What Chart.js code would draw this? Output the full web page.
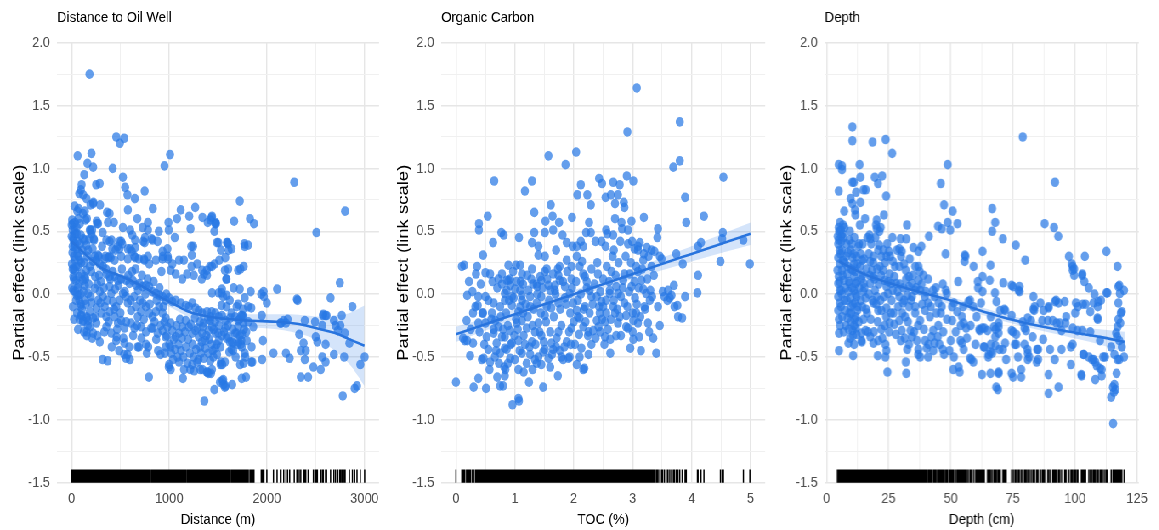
<!DOCTYPE html>
<html>
<head>
<meta charset="utf-8">
<script src="https://cdn.jsdelivr.net/npm/chart.js@4.4.1/dist/chart.umd.min.js"></script>
<style>
html, body { margin: 0; padding: 0; background: #fff; overflow: hidden; }
#figure { position: absolute; left: 0; top: 0; height: 530px; transform-origin: 0 0; }
.panel { position: absolute; top: 0; height: 530px; }
</style>
</head>
<body>
<div id="figure">
	<div class="panel"><canvas id="c1"></canvas></div>
	<div class="panel"><canvas id="c2"></canvas></div>
	<div class="panel"><canvas id="c3"></canvas></div>
</div>
<script>
// ---- data ----
const yTicks = [-1.5, -1.25, -1, -0.75, -0.5, -0.25, 0, 0.25, 0.5, 0.75, 1, 1.25, 1.5, 1.75, 2]
const yMajor = [-1.5, -1, -0.5, 0, 0.5, 1, 1.5, 2]

const distTicks = [0, 500, 1000, 1500, 2000, 2500, 3000]
const distMajor = [0, 1000, 2000, 3000]
const tocTicks = [0, 0.5, 1, 1.5, 2, 2.5, 3, 3.5, 4, 4.5, 5]
const tocMajor = [0, 1, 2, 3, 4, 5]
const depthTicks = [0, 12.5, 25, 37.5, 50, 62.5, 75, 87.5, 100, 112.5, 125]
const depthMajor = [0, 25, 50, 75, 100, 125]

// partial residuals, distance to oil well (m)
const distPoints = [
[183,1.75],[457,1.25],[494,1.20],[538,1.24],[61,1.10],[203,1.12],[162,1.04],[220,1.01],[420,1.00],[1008,1.11],[951,1.02],[2281,0.89],[2802,0.66],[2508,0.49],[129,0.95],[102,0.87],[94,0.83],[78,0.80],[251,0.87],[287,0.88],[525,0.93],[548,0.85],[572,0.79],[647,0.76],[748,0.82],[152,0.76],[223,0.73],[193,0.71],[30,0.70],[71,0.68],[135,0.66],[115,0.64],[156,0.60],[142,0.59],[291,0.71],[362,0.65],[389,0.64],[576,0.67],[832,0.68],[1117,0.67],[1266,0.69],[1723,0.74],[1205,0.62],[1218,0.52],[1340,0.61],[1394,0.57],[1080,0.60],[992,0.57],[995,0.51],[1056,0.45],[673,0.60],[782,0.57],[728,0.53],[782,0.51],[893,0.50],[1827,0.60],[1868,0.56],[1665,0.58],[1475,0.57],[1462,0.50],[372,0.57],[433,0.57],[257,0.58],[261,0.56],[5,0.59],[13,0.56],[30,0.51],[54,0.48],[94,0.47],[193,0.51],[226,0.44],[318,0.49],[409,0.43],[508,0.42],[470,0.38],[490,0.36],[622,0.47],[650,0.43],[599,0.36],[616,0.34],[751,0.45],[748,0.41],[819,0.44],[880,0.42],[982,0.36],[1225,0.38],[1245,0.38],[1503,0.41],[1604,0.40],[1638,0.36],[1773,0.38],[1807,0.39],[1231,0.31],[934,0.30],[988,0.28],[782,0.30],[741,0.28],[650,0.29],[312,0.38],[237,0.30],[277,0.30],[345,0.30],[376,0.29],[400,0.29],
[20,0.20],[74,0.08],[68,-0.01],[94,-0.08],[94,-0.17],[115,-0.22],[155,-0.19],[155,-0.30],[155,-0.33],[318,-0.52],[368,-0.53],[460,-0.34],[487,-0.45],[572,-0.48],[596,-0.52],[538,-0.48],[690,-0.42],[785,-0.42],[792,-0.66],[866,-0.36],[911,-0.48],[995,-0.58],[1015,-0.60],[1140,-0.67],[1215,-0.60],[1256,-0.61],[1317,-0.60],[1391,-0.62],[1428,-0.63],[1360,-0.85],[1462,-0.76],[1520,-0.70],[1546,-0.69],[1577,-0.73],[1645,-0.72],[1743,-0.67],[1526,-0.56],[1570,-0.54],[1655,-0.45],[1851,-0.54],[1780,-0.50],[1952,-0.52],[2068,-0.47],[1960,-0.37],[1949,-0.17],[1970,-0.02],[1967,0.02],[2000,-0.07],[2105,0.04],[1835,0.02],[1723,0.04],[1706,-0.08],[1756,-0.12],[1749,-0.17],[1587,-0.01],[1587,0.12],[1604,0.20],[1706,0.19],[1763,0.22],[2308,-0.04],[2332,-0.32],[2376,-0.39],[2348,-0.45],[2399,-0.45],[2389,-0.21],[2196,-0.23],[2173,-0.21],[2213,-0.20],[2139,-0.23],[2196,-0.47],[2234,-0.51],[2348,-0.66],[2423,-0.66],[2389,-0.52],[2477,-0.58],[2552,-0.60],[2568,-0.50],[2602,-0.54],[2494,-0.22],[2501,-0.34],[2518,-0.38],[2568,-0.25],[2602,-0.17],[2579,-0.16],[2612,-0.17],[2602,-0.40],[2653,-0.03],[2687,-0.21],[2704,-0.25],[2728,-0.29],[2754,-0.25],[2687,-0.48],[2748,0.09],[2768,-0.17],[2799,-0.31],[2792,-0.50],[2778,-0.81],[2846,-0.39],[2877,-0.10],[2900,-0.75],[2924,-0.73],[2958,-0.56],[3002,-0.50],
[1943,0.00],[2315,-0.05],[1434,0.61],[1479,0.56],[1530,0.35],[1597,0.41],[1570,0.19],[1584,0.12],[1729,0.20],[1418,0.22],[1385,0.19],[1357,0.16],[1333,0.12],[2145,-0.23],[2575,-0.17],[1841,-0.54],[1401,-0.63],[1385,-0.62],[1340,-0.60],[1530,-0.54],[1543,-0.56],[1452,-0.50],[1401,-0.47],[1469,-0.43],[1486,-0.40],[1435,-0.40],[1333,-0.38],[1317,-0.42],[1638,-0.44],[1688,-0.31],[1723,-0.33],[1739,-0.37],[1733,-0.40],[1773,-0.47],[1503,-0.31],[1587,-0.35],[1621,-0.38],[1655,-0.39],[1706,-0.26],[1739,-0.17],[1756,-0.18],[1638,-0.15],[1587,-0.10],[1536,-0.09],[1553,-0.02],[1536,0.01],[1435,-0.14],[1418,-0.21],[1350,-0.23],[1807,-0.10],[1841,-0.11],[1773,-0.03],[1553,-0.68],[1570,-0.74],
[118,0.79],[220,0.72],[58,0.66],[271,0.56],[210,0.51],[203,0.48],[599,0.51],[525,0.53],[931,0.34],[985,0.30],[829,0.43],[734,0.42],[650,0.37],[575,0.36],[518,0.40],[491,0.42],[450,0.35],[416,0.36],[389,0.42],[355,0.43],[230,0.43],[186,0.51],[118,0.44],[10,0.51],[0,0.55],[34,0.57],[85,0.56],[135,0.43],[152,0.39],[169,0.35],[51,0.36],[34,0.40],[17,0.43],
[271,0.31],[338,0.28],[389,0.30],[440,0.27],[508,0.30],[575,0.28],[643,0.30],[687,0.28],[745,0.27],[795,0.24],[863,0.27],[931,0.28],[1032,0.24],[1100,0.27],[1150,0.27],[1184,0.16],[1252,0.15],[1286,0.24],[1228,0.22],[1134,0.12],[1066,0.16],[1015,0.19],[1337,0.19],[1387,0.15],[1438,0.22],[1465,0.24],[1513,0.27],[1574,0.29],[1608,0.35],[1591,0.41],[1489,0.41],[1472,0.56],[1438,0.62],[1421,0.59],[1770,0.40],[1540,0.04],[1506,0.01],[1438,0.01],
[10,0.20],[34,0.19],[68,0.22],[102,0.16],[135,0.14],[152,0.19],[186,0.22],[220,0.26],[254,0.27],[288,0.24],[321,0.22],[355,0.16],[389,0.14],[440,0.14],[474,0.11],[508,0.12],[558,0.11],[592,0.085],[626,0.11],[660,0.07],[694,0.085],[728,0.06],[761,0.07],[795,0.06],[829,0.02],[863,0.005],[897,-0.008],[931,-0.02],[964,-0.05],[998,-0.03],[1032,-0.06],[1066,-0.05],[1117,-0.07],[1168,-0.09],[1201,-0.10],[1235,-0.07],[1269,-0.11],[1303,-0.13],[1337,-0.15],[1387,-0.14],[1421,-0.18],[1472,-0.15],[1506,-0.18],[1540,-0.17],[1574,-0.21],[1624,-0.19],[1675,-0.18],[1709,-0.21],[1760,-0.23],[1810,-0.22],[1861,-0.26],
[17,0.03],[51,-0.01],[78,-0.05],[91,-0.10],[102,-0.17],[118,-0.21],[152,-0.18],[186,-0.14],[220,-0.19],[254,-0.23],[203,-0.07],[271,-0.05],[321,-0.02],[288,0.02],[237,0.045],[169,0.005],[135,-0.05],[389,0.06],[406,0.005],[423,-0.06],[457,-0.10],[491,-0.05],[525,0.005],[558,-0.02],[575,-0.07],[609,-0.13],[660,-0.10],[677,-0.18],[711,-0.14],[728,-0.07],[761,-0.10],[795,-0.15],[829,-0.18],[863,-0.14],[897,-0.10],[931,-0.15],[964,-0.19],[981,-0.26],[1015,-0.23],[1032,-0.29],[1066,-0.34],[1100,-0.31],[1134,-0.26],[1168,-0.21],[1201,-0.26],[1235,-0.31],[1269,-0.29],[1303,-0.34],[1337,-0.31],[1371,-0.37],[1404,-0.29],[1438,-0.26],[1472,-0.31],[1506,-0.37],[1540,-0.33],[1574,-0.27],[1607,-0.34],[1641,-0.38],[1675,-0.31],[1709,-0.38],[1743,-0.42],[1794,-0.37],[1844,-0.42],
[541,-0.39],[558,-0.51],[677,-0.42],[761,-0.40],[964,-0.42],[1015,-0.42],[1039,-0.52],[998,-0.56],[1100,-0.54],[1151,-0.60],[1235,-0.56],[1286,-0.54],[1438,-0.60],[1557,-0.72],[1726,-0.56],[1760,-0.55],[1787,-0.66],
[44,0.11],[17,0.14],[112,0.11],[135,0.07],[254,-0.11],[305,-0.15],[355,-0.18],[338,-0.10],[389,-0.14],[440,-0.18],[474,-0.23],[508,-0.21],[541,-0.27],[609,-0.23],[643,-0.27],[711,-0.26],[761,-0.30],[829,-0.27],[880,-0.31],[931,-0.29],[964,-0.34],[355,-0.26],[406,-0.31],[457,-0.37],[186,-0.26],[220,-0.31],[288,-0.38],[169,-0.21],
[0,0.46],[10,0.38],[24,0.30],[3,0.24],[34,0.27],[58,0.32],[85,0.27],[51,0.53],[68,0.60],
[950,-0.22],[975,-0.33],[1000,-0.40],[1020,-0.47],[1045,-0.36],[1060,-0.44],[1075,-0.25],[1085,-0.50],[1095,-0.40],[1110,-0.20],[1120,-0.45],[1130,-0.35],[1145,-0.50],[1160,-0.30],[1170,-0.42],[1185,-0.55],[1195,-0.36],[1210,-0.47],[1220,-0.24],[1240,-0.40],[1250,-0.50],[1262,-0.19],[1275,-0.44],[1290,-0.27],[1300,-0.52],[1315,-0.22],[1325,-0.47],[1345,-0.26],[1355,-0.51],[1370,-0.43],[1380,-0.33],[1395,-0.20],[1410,-0.36],[1420,-0.53],[1445,-0.45],[1455,-0.28],[1470,-0.22],[1490,-0.48],[1510,-0.25],[1525,-0.42],
[5,0.05],[8,0.33],[12,-0.10],[15,0.45],[22,0.12],[25,-0.20],[28,0.38],[38,0.02],[40,0.48],[45,-0.05],[48,0.22],[55,-0.15],[60,0.42],[62,0.05],[65,-0.28],[70,0.30],[75,0.14],[80,-0.20],[88,0.40],[90,0.00],[98,0.25],[105,-0.12],[110,0.35],[122,0.02],[125,-0.30],[130,0.25],[140,0.12],[145,-0.08],[160,0.30],[165,-0.25],[175,0.08],[180,0.44],[195,-0.02],[200,0.18],[210,-0.35],[215,0.36],[240,0.14],[245,-0.18],[260,0.08],[265,-0.33],[280,0.15],[295,-0.07],[300,0.10],[330,0.05],[335,-0.30],[350,0.20],[365,-0.05],[380,-0.22],[395,0.12],[410,-0.42],[420,0.18],[435,-0.12],[445,0.04],[465,-0.28],[480,0.07],[500,-0.15],[515,0.20],[530,-0.35],[545,0.02],[560,-0.22],[580,0.15],[590,-0.42],[605,-0.05],[620,0.18],[630,-0.33],[640,-0.02],[655,0.20],[670,-0.25],[680,0.03],[700,-0.05],[715,-0.35],[720,0.15],[740,-0.20],[755,0.00],[770,-0.47],[780,0.12],[800,-0.08],[815,-0.27],[840,0.10],[850,-0.22],[870,-0.05],[885,-0.45],[900,0.05],[910,-0.25],[920,0.18],[940,-0.10],[955,-0.47],[970,0.00],
[1560,-0.30],[1600,-0.25],[1615,-0.46],[1650,-0.28],[1680,-0.50],[1700,-0.40],[1720,-0.20],[1745,-0.32],[1765,-0.28],[1790,-0.30],[1620,-0.05],[1660,0.05],[1690,-0.10]
]
const distFitX = [0, 150, 300, 450, 600, 750, 900, 1050, 1200, 1350, 1500, 1650, 1800, 1950, 2100, 2250, 2400, 2550, 2700, 2850, 3000]
const distFit = [0.42, 0.31, 0.21, 0.16, 0.11, 0.05, -0.02, -0.08, -0.14, -0.17, -0.19, -0.20, -0.21, -0.215, -0.22, -0.23, -0.25, -0.28, -0.31, -0.36, -0.41]
const distLo = [0.30, 0.24, 0.16, 0.12, 0.07, 0.01, -0.06, -0.12, -0.18, -0.21, -0.23, -0.25, -0.26, -0.27, -0.28, -0.30, -0.33, -0.38, -0.45, -0.56, -0.73]
const distHi = [0.55, 0.38, 0.26, 0.20, 0.15, 0.09, 0.02, -0.04, -0.10, -0.13, -0.15, -0.15, -0.16, -0.16, -0.16, -0.16, -0.17, -0.18, -0.17, -0.15, -0.09]

// partial residuals, total organic carbon (%)
const tocPoints = [
[3.07,1.64],[2.91,1.29],[3.80,1.37],[3.80,1.06],[3.69,1.01],[1.57,1.10],[2.04,1.13],[1.86,1.03],[4.54,0.93],[0.65,0.90],[1.29,0.90],[1.17,0.82],[2.12,0.87],[2.43,0.92],[2.48,0.88],[2.67,0.89],[2.78,0.87],[2.90,0.94],[3.01,0.90],[2.06,0.79],[2.23,0.79],[2.54,0.77],[2.63,0.79],[2.75,0.79],[2.85,0.73],[2.70,0.72],[2.86,0.69],[3.89,0.77],[2.29,0.71],[1.61,0.71],[1.33,0.65],[0.54,0.62],[0.39,0.56],[0.39,0.51],[1.64,0.62],[1.75,0.57],[1.97,0.61],[2.26,0.57],[2.70,0.60],[2.98,0.58],[3.19,0.61],[4.21,0.62],[3.91,0.57],[1.52,0.58],[1.65,0.51],[1.33,0.49],[1.51,0.49],[0.77,0.49],[0.81,0.47],[1.07,0.45],[0.63,0.41],[1.29,0.41],[1.81,0.47],[1.88,0.41],[2.21,0.49],[2.29,0.49],[2.55,0.51],[2.57,0.48],[2.67,0.47],[2.82,0.52],[2.92,0.51],[3.43,0.52],[3.42,0.45],[4.53,0.49],[4.52,0.44],[4.88,0.43],[4.16,0.41],[4.11,0.38],[3.74,0.32],[0.14,0.23],[0.36,0.22],[0.46,0.31],[0.89,0.23],[1.02,0.23],[1.09,0.23],[1.40,0.31],[1.51,0.30],[1.70,0.35],[2.05,0.38],[1.98,0.38],[2.12,0.42],[2.16,0.38],[2.37,0.42],[2.47,0.42],[2.54,0.38],[2.68,0.35],[2.99,0.42],[3.09,0.38],[3.12,0.41],[3.24,0.37],[3.32,0.35],[3.37,0.34],[3.46,0.30],[3.49,0.28],[4.99,0.24],[4.49,0.26],
[0.34,0.16],[0.50,0.17],[0.58,0.16],[0.19,-0.01],[0.28,0.02],[0.50,-0.02],[0.00,-0.70],[0.18,-0.21],[0.15,-0.37],[0.19,-0.37],[0.29,-0.39],[0.24,-0.49],[0.38,-0.23],[0.30,-0.74],[0.38,-0.67],[0.44,-0.52],[0.47,-0.51],[0.51,-0.75],[0.55,-0.44],[0.52,-0.34],[0.45,-0.15],[0.61,-0.15],[0.64,-0.28],[0.70,-0.66],[0.75,-0.73],[0.80,-0.73],[0.84,-0.60],[0.82,-0.58],[0.96,-0.88],[1.06,-0.83],[1.07,-0.85],[1.06,-0.60],[1.24,-0.70],[1.48,-0.74],[1.73,-0.65],[2.18,-0.59],[2.05,-0.56],[2.62,-0.47],[2.96,-0.43],[3.11,-0.34],[3.40,-0.47],[3.77,-0.18],[3.84,-0.19],[3.89,-0.02],[4.10,0.01],[4.11,0.15],[3.70,0.07],[3.60,0.03],[3.46,-0.25],[3.43,-0.10],[3.71,-0.10],[3.76,-0.09],[3.30,0.03],[3.15,0.11],[2.98,0.06],[2.75,0.005],[2.86,-0.07],[3.00,-0.15],[3.09,-0.23],[2.92,-0.27],[2.75,-0.23],[2.53,-0.22],[2.70,-0.15],[2.47,-0.06],[2.30,-0.02],[2.19,-0.10],[2.07,-0.18],[1.96,-0.27],[1.88,-0.38],[1.79,-0.50],[1.93,-0.50],[2.13,-0.43],[2.25,-0.30],[2.42,-0.26],[2.53,-0.34],[2.72,-0.33],[2.89,-0.17],[3.04,-0.03],
[1.34,-0.52],[1.40,-0.50],[1.51,-0.44],[1.62,-0.39],[1.74,-0.30],[1.45,-0.33],[1.29,-0.38],[1.17,-0.40],[1.06,-0.37],[0.95,-0.39],[0.83,-0.43],[0.78,-0.34],[0.72,-0.26],[0.67,-0.21],[0.75,-0.10],[0.83,-0.05],[0.95,-0.09],[1.06,-0.14],[1.12,-0.21],[1.20,-0.27],[1.34,-0.30],[1.40,-0.23],[1.51,-0.17],[1.62,-0.11],[1.74,-0.07],[1.85,-0.03],[1.68,0.03],[1.57,0.07],[1.45,0.11],[1.37,0.08],[1.23,0.03],[1.12,-0.01],[1.00,0.04],[0.89,0.11],[0.78,0.16],[1.12,0.16],[1.29,0.20],[1.51,0.18],[1.74,0.15],[1.96,0.12],[2.19,0.14],[2.41,0.16],[2.64,0.18],[2.86,0.16],[3.09,0.18],[3.32,0.22],
[1.40,0.38],[1.21,0.15],[1.38,0.06],[1.26,-0.02],[1.12,-0.05],[0.72,0.12],[0.86,0.11],[0.92,0.07],[0.83,0.005],[0.95,-0.02],[1.09,0.03],[0.38,-0.02],[0.37,-0.09],[0.64,-0.07],[0.29,-0.15],[0.46,-0.15],[0.58,-0.54],[0.50,-0.23],[0.64,-0.31],[0.83,-0.65],
[0.69,-0.39],[0.75,-0.47],[0.86,-0.44],[0.92,-0.51],[1.00,-0.52],[1.12,-0.47],[1.20,-0.55],[1.26,-0.48],[1.37,-0.55],[1.48,-0.46],[1.57,-0.51],[1.65,-0.44],[1.70,-0.42],[1.82,-0.52],[1.91,-0.51],[2.16,-0.60],
[0.78,0.08],[0.86,0.03],[0.98,-0.03],[1.09,-0.10],[1.14,-0.15],[1.03,-0.23],[0.92,-0.29],[0.83,-0.34],[1.26,-0.10],[1.37,-0.07],[1.45,-0.02],[1.54,-0.10],[1.60,0.03],[1.68,0.07],[1.76,0.11],[1.85,0.06],[1.93,0.005],[1.99,-0.07],[2.05,-0.13],[2.10,-0.19],[2.16,-0.26],[2.24,-0.33],[2.33,-0.29],[2.39,-0.21],[2.44,-0.15],[2.50,-0.10],[2.55,-0.05],[2.61,0.03],[2.39,-0.02],[2.27,0.03],[2.22,0.10],[2.16,0.16],[2.10,0.22],[2.05,0.30],[1.96,0.22],[1.88,0.27],[1.76,0.22],[1.65,0.16],[1.54,0.20],[1.43,0.14],[1.31,0.08],[1.14,0.08],[1.03,0.10],[0.92,0.12],
[2.81,0.57],[2.79,0.42],[2.92,0.40],[3.03,0.36],[3.09,0.35],[3.19,0.32],[3.27,0.30],[3.85,0.24],[3.66,-0.01],[3.26,-0.23],[3.51,0.02],[3.63,-0.03],[3.59,-0.05],[3.54,-0.02],[3.18,0.04],[3.23,0.005],[3.29,-0.05],[3.20,-0.10],[3.06,-0.15],[3.01,-0.21],[2.89,-0.26],[2.78,-0.18],[2.67,-0.10],[2.55,-0.15],[2.61,0.005],[2.72,0.06],[2.84,0.11],[2.95,0.16],[3.06,0.22],[3.18,0.27],[3.01,-0.36],
[1.02,-0.20],[1.05,-0.28],[1.08,-0.45],[1.10,0.10],[1.15,-0.33],[1.18,-0.08],[1.22,-0.18],[1.25,-0.42],[1.28,0.12],[1.30,-0.25],[1.32,-0.12],[1.35,-0.40],[1.38,0.00],[1.42,-0.30],[1.44,-0.15],[1.47,0.05],[1.49,-0.38],[1.53,-0.22],[1.55,0.12],[1.58,-0.05],[1.60,-0.30],[1.63,-0.48],[1.66,-0.18],[1.69,0.00],[1.71,-0.35],[1.73,0.20],[1.77,-0.12],[1.79,-0.25],[1.82,0.10],[1.84,-0.42],[1.87,-0.08],[1.89,0.18],[1.92,-0.30],[1.94,-0.15],[1.97,0.05],[2.00,-0.22],[2.02,-0.40],[2.04,0.10],[2.07,-0.05],[2.09,-0.32],[2.12,0.00],[2.14,0.26],[2.17,-0.12],[2.20,-0.22],[2.22,0.05],[2.25,-0.48],[2.27,-0.15],[2.30,0.20],[2.32,-0.08],[2.35,0.08],[2.37,-0.35],[2.40,0.25],[2.43,-0.10],[2.45,0.02],[2.48,-0.20],[2.50,0.12],[2.52,-0.40],[2.56,0.22],[2.58,-0.28],[2.60,0.10],[2.63,-0.20],[2.66,0.30],[2.68,-0.05],[2.71,0.15],[2.74,-0.12],[2.76,0.25],[2.80,-0.02],[2.83,0.05],[2.88,0.30],[2.91,-0.10],[2.94,0.02],[2.97,0.25],[3.00,-0.30],[3.03,0.10],[3.07,-0.08],[3.10,0.05],[3.13,-0.18],[3.16,0.20],[3.21,-0.12],[3.25,0.12],[3.28,-0.30],[3.33,-0.02],[3.36,0.15],
[0.55,-0.05],[0.60,-0.20],[0.62,0.10],[0.68,-0.45],[0.70,0.05],[0.73,-0.55],[0.76,-0.18],[0.80,-0.28],[0.85,-0.15],[0.88,-0.25],[0.90,-0.05],[0.93,-0.40],[0.97,0.18],[0.99,-0.33],[0.40,-0.30],[0.42,0.08],[0.48,-0.40],[0.33,-0.10],[0.25,-0.28],[0.22,0.10],[0.12,-0.35],[0.10,0.22],[0.57,-0.60],[0.66,-0.50],[0.88,-0.55],[1.15,-0.62],[1.30,-0.60],[1.45,-0.56],[1.60,-0.58],[1.76,-0.45],[1.95,-0.40],[2.10,-0.50],[2.30,-0.40],[2.45,-0.30],[2.62,-0.36],[2.80,-0.33],[3.14,-0.45],[3.35,-0.35]
]
const tocFitX = [0, 1, 2, 3, 4, 5]
const tocFit = [-0.32, -0.16, 0.0, 0.16, 0.32, 0.48]
const tocLo = [-0.38, -0.20, -0.03, 0.12, 0.26, 0.39]
const tocHi = [-0.26, -0.12, 0.03, 0.20, 0.38, 0.57]

// partial residuals, sample depth (cm)
const depthPoints = [
[10.4,1.33],[10.4,1.22],[18.5,1.21],[23.8,1.23],[26.4,1.12],[48.8,1.03],[79.0,1.25],[92.0,0.89],[4.9,1.03],[6.2,1.02],[6.2,0.99],[13.3,1.03],[13.6,0.93],[4.9,0.82],[10.4,0.89],[11.0,0.89],[11.9,0.81],[19.4,0.93],[22.4,0.94],[20.7,0.88],[14.9,0.83],[15.8,0.83],[24.0,0.78],[13.6,0.73],[9.7,0.76],[10.4,0.72],[7.1,0.66],[11.4,0.67],[11.6,0.63],[23.1,0.63],[20.2,0.59],[21.8,0.53],[5.4,0.57],[4.9,0.53],[5.8,0.51],[4.5,0.46],[6.4,0.48],[46.0,0.88],[47.3,0.71],[50.8,0.66],[48.8,0.57],[49.8,0.51],[52.7,0.56],[44.9,0.54],[46.4,0.52],[41.2,0.46],[47.9,0.32],[55.7,0.31],[32.4,0.55],[29.8,0.44],[32.1,0.44],[35.0,0.37],[38.2,0.38],[37.0,0.34],[66.7,0.68],[67.9,0.57],[66.7,0.50],[71.0,0.44],[76.2,0.39],[80.0,0.27],[87.8,0.56],[91.6,0.53],[93.3,0.46],[97.6,0.30],[98.8,0.24],[99.1,0.22],[104.0,0.30],[112.7,0.34],[117.2,0.22],[62.8,0.34],[59.2,0.22],[66.0,0.23],
[7.2,0.53],[6.6,0.55],[5.9,0.46],[4.9,0.43],[17.3,0.47],[17.6,0.44],[19.9,0.55],[20.2,0.52],[55.9,0.30],[55.6,0.26],[29.3,0.36],[30.3,0.34],[25.1,0.34],[24.1,0.30],[21.2,0.39],[18.9,0.30],[31.9,0.19],[33.2,0.14],[35.7,0.22],[37.0,0.22],[31.2,0.24],[29.3,0.22],[26.7,0.26],[37.7,0.03],[38.3,0.08],[39.6,-0.02],[40.9,-0.07],[35.7,-0.10],[33.2,-0.10],[30.8,-0.07],[43.5,-0.02],[45.1,-0.07],[46.4,-0.10],[46.8,0.08],[48.0,0.03],[48.4,0.005],[50.6,-0.21],[51.3,-0.07],[52.6,-0.14],[54.5,-0.18],[55.2,-0.23],[56.2,-0.27],[57.1,-0.06],[57.8,-0.05],[59.1,-0.10],[60.4,-0.18],[61.7,-0.29],[62.7,-0.27],[50.0,-0.37],[51.3,-0.50],[51.0,-0.60],[53.2,-0.58],[53.6,-0.62],[53.9,-0.37],[55.2,-0.44],[57.8,-0.51],[59.1,-0.54],[54.5,-0.39],[62.6,-0.64],[63.3,-0.42],
[32.1,-0.63],[31.9,-0.54],[32.5,-0.44],[33.2,-0.40],[29.9,-0.37],[30.3,-0.29],[29.3,-0.21],[31.6,-0.18],[33.8,-0.29],[34.4,-0.34],[36.4,-0.37],[37.0,-0.44],[37.7,-0.50],[39.6,-0.37],[40.3,-0.43],[40.9,-0.50],[42.2,-0.34],[42.9,-0.29],[43.5,-0.39],[45.5,-0.40],[46.8,-0.44],[44.8,-0.34],
[24.5,-0.62],[23.7,-0.50],[24.1,-0.45],[23.7,-0.40],[20.6,-0.49],[18.9,-0.39],[17.6,-0.34],[15.7,-0.29],[14.0,-0.31],[14.1,-0.37],[11.8,-0.27],[11.1,-0.25],[10.5,-0.29],[10.7,-0.33],[11.1,-0.40],[10.7,-0.49],[8.8,-0.39],[5.0,-0.31],[5.0,-0.45],[22.1,-0.28],[20.8,-0.37],[23.4,-0.25],[25.4,-0.23],[27.3,-0.24],[22.1,-0.13],[24.1,-0.11],[26.0,-0.15],
[4.7,0.40],[5.3,0.35],[4.7,0.29],[5.3,0.24],[4.4,0.19],[4.9,0.14],[4.7,0.085],[5.3,0.03],[4.7,-0.02],[5.3,-0.07],[4.7,-0.13],[6.2,0.35],[6.6,0.27],[6.2,0.19],[7.0,0.11],[5.9,0.03],[7.2,-0.05],[7.5,-0.13],[8.5,-0.19],[9.8,-0.22],[9.2,0.43],[9.8,0.35],[10.5,0.29],[11.1,0.24],[10.5,0.19],[11.1,0.14],[11.8,0.085],[11.1,0.03],[12.2,-0.02],[11.4,-0.07],[12.4,-0.13],[11.8,-0.18],[13.1,0.40],[13.7,0.32],[14.4,0.27],[13.5,0.22],[14.4,0.15],[15.0,0.085],[14.8,0.02],[15.7,-0.03],[14.4,-0.10],[16.3,-0.15],[17.0,0.32],[17.6,0.26],[18.3,0.19],[18.9,0.14],[17.6,0.085],[19.5,0.03],[20.2,-0.02],[18.9,-0.07],[20.8,-0.13],[21.5,0.22],[22.1,0.30],[20.8,0.35],[22.8,0.19],[23.4,0.11],[24.1,0.06],[24.7,0.005],[25.4,0.16],[26.0,0.085],[26.7,0.03],[27.3,0.14],[28.0,0.085],[28.6,0.02],[7.9,0.30],[8.5,0.22],[8.3,0.16],[9.2,0.085],[8.8,0.02],[9.6,-0.03],[9.8,-0.10],[9.2,-0.15],
[29.3,-0.02],[31.2,-0.05],[32.5,-0.01],[34.4,-0.02],[35.7,0.03],[37.0,0.11],[39.0,0.15],[40.9,0.12],[42.9,0.03],[34.4,0.085],[33.2,0.06],[35.7,-0.15],[37.7,-0.21],[39.6,-0.13],[41.6,-0.18],[44.2,-0.15],
[99.1,0.19],[62.8,0.14],[65.7,0.11],[67.8,0.01],[71.6,-0.12],[75.1,0.06],[77.7,0.06],[77.3,0.03],[83.3,-0.02],[86.1,-0.07],[89.4,-0.11],[92.4,-0.05],[93.4,-0.07],[83.3,-0.12],[83.8,-0.10],[81.0,-0.19],[96.5,-0.18],[100.1,-0.15],[101.2,-0.10],[103.2,-0.08],[104.3,-0.08],[103.0,0.16],[103.8,0.10],[105.6,0.05],[107.9,0.00],[110.5,-0.05],[109.2,-0.10],[112.7,0.01],[117.5,0.06],[118.1,0.005],[119.8,0.03],[117.5,-0.07],[118.9,-0.14],[117.5,-0.20],[118.3,-0.23],[109.2,-0.20],
[61.5,-0.28],[64.8,-0.29],[67.4,-0.26],[68.0,-0.28],[69.3,-0.31],[74.5,-0.29],[76.4,-0.32],[79.7,-0.27],[83.0,-0.34],[87.2,-0.36],[91.1,-0.21],[93.9,-0.23],[96.2,-0.23],[99.1,-0.27],[101.0,-0.29],[106.2,-0.30],[116.6,-0.31],[117.0,-0.34],[117.9,-0.37],
[63.5,-0.42],[66.1,-0.40],[66.7,-0.47],[65.2,-0.48],[69.6,-0.44],[71.9,-0.39],[75.8,-0.40],[79.7,-0.40],[80.9,-0.44],[81.6,-0.50],[84.8,-0.44],[84.6,-0.54],[90.0,-0.44],[91.9,-0.52],[94.6,-0.44],[98.4,-0.42],[99.1,-0.40],[103.6,-0.48],[105.6,-0.50],[106.9,-0.52],[108.2,-0.54],[108.8,-0.57],[110.1,-0.59],[110.8,-0.65],[108.2,-0.68],[112.1,-0.50],[114.6,-0.42],[115.9,-0.48],[117.2,-0.52],[119.8,-0.50],
[69.3,-0.63],[68.3,-0.74],[69.0,-0.76],[74.5,-0.63],[75.1,-0.66],[78.4,-0.60],[78.4,-0.66],[89.4,-0.64],[89.4,-0.79],[93.4,-0.74],[102.7,-0.65],[115.9,-0.72],[115.3,-0.74],[115.7,-0.78],[114.6,-0.82],[115.4,-1.03],[116.8,-0.63],[66.1,-0.18],[69.3,-0.23],[74.5,-0.17],[87.4,-0.13],
[36.9,-0.48],[47.3,-0.48],[58.3,-0.52],[66.0,-0.63],[69.3,-0.62],[72.3,-0.52],[65.1,-0.50],[71.0,-0.44],[68.0,-0.41],[77.1,-0.50],[81.0,-0.52],[81.0,-0.47],[85.2,-0.44],[85.2,-0.52],[98.4,-0.56],[102.6,-0.64],[103.4,-0.48],[107.5,-0.52],[110.8,-0.60],[116.3,-0.76],[117.9,-0.52],[118.9,-0.42],
[117.9,0.07],[113.1,0.01],[109.4,-0.06],[109.1,-0.19],[106.2,-0.14],[107.5,-0.07],[118.5,-0.15],[117.2,-0.26],[110.1,-0.37],[111.4,-0.50],
[99.7,0.20],[99.7,0.15],[102.9,0.15],[100.4,-0.07],[103.0,-0.29],[94.6,-0.29],[95.9,-0.06],[92.0,-0.06],[89.4,-0.10],[86.8,-0.21],[89.1,-0.21],[92.6,-0.23],[83.6,-0.13],[82.3,-0.21],[79.0,-0.22],[80.3,-0.29],[77.7,0.02],[74.5,0.07],[71.2,0.09],[60.9,0.10],[62.8,0.02],[62.2,-0.07],[68.4,-0.06],[69.9,-0.13],[69.3,-0.26],[63.5,-0.27],[67.9,-0.34],[66.0,-0.46],[71.9,-0.13],[75.1,-0.30],[76.4,-0.40],
[5.1,0.50],[5.2,0.10],[5.0,-0.20],[5.4,-0.25],[5.6,0.32],[5.8,-0.10],[6.0,0.42],[6.1,0.00],[6.3,-0.18],[6.5,0.15],[6.8,0.45],[6.9,-0.30],[7.3,0.25],[7.6,0.05],[7.8,-0.25],[8.0,0.40],[8.2,-0.05],[8.6,0.33],[8.9,-0.28],[9.0,0.10],[9.4,0.50],[9.5,-0.35],[9.9,0.20],[10.0,-0.15],[10.2,0.40],[10.3,0.05],[10.6,-0.08],[10.9,0.32],[11.2,0.45],[11.3,-0.20],[11.5,0.18],[11.7,0.00],[12.0,0.30],[12.1,-0.32],[12.3,0.10],[12.5,0.24],[12.6,-0.10],[12.8,0.38],[13.0,-0.22],[13.2,0.05],[13.4,0.55],[13.8,-0.05],[14.0,0.12],[14.2,-0.38],[14.6,0.40],[14.9,-0.20],[15.1,0.28],[15.3,0.05],[15.5,0.60],[15.9,-0.12],[16.1,0.20],[16.5,0.45],[16.7,-0.30],[17.1,0.00],[17.4,0.15],[17.8,-0.20],[18.0,0.40],[18.5,-0.05],[18.8,0.25],[19.1,-0.30],[19.3,0.12],[19.7,0.45],[20.0,-0.08],[20.4,0.20],[20.6,-0.22],[21.0,0.08],[21.3,0.50],[21.7,-0.05],[22.0,0.15],[22.5,-0.35],[22.9,0.35],[23.2,-0.02],[23.6,0.25],[24.0,-0.18],[24.4,0.40],[24.8,0.10],[25.2,-0.30],[25.6,0.30],[26.2,-0.05],[26.5,0.45],[27.0,-0.15],[27.5,0.22],[27.9,-0.32],[28.3,0.35],[28.8,-0.10],[29.5,0.08],[30.0,0.30],[30.5,-0.15],[31.0,0.05],[31.5,-0.35],[32.0,0.12],[32.8,-0.22],[33.5,0.28],[34.0,-0.05],[34.8,0.15],[35.3,-0.30],[36.0,0.05],[36.8,-0.25],[37.5,0.18],[38.5,-0.08],[39.2,-0.28],[40.0,0.02],[41.0,-0.40],[42.0,-0.10],[43.0,-0.45],[44.0,0.05],[45.0,-0.25],[46.0,-0.15],[47.0,-0.30],[48.5,-0.20],[49.5,-0.45],[50.5,-0.10],[52.0,-0.30],[53.0,0.10],[54.0,-0.25],[55.0,-0.10],[56.5,-0.35],[58.0,-0.25],[60.0,-0.40],[61.0,0.05]
]
const depthFitX = [5, 15, 25, 35, 50, 65, 80, 95, 110, 120]
const depthFit = [0.26, 0.16, 0.09, 0.03, -0.05, -0.15, -0.23, -0.29, -0.34, -0.38]
const depthLo = [0.20, 0.12, 0.06, 0.00, -0.08, -0.18, -0.26, -0.33, -0.40, -0.46]
const depthHi = [0.32, 0.20, 0.12, 0.06, -0.02, -0.12, -0.20, -0.25, -0.28, -0.30]

// ---- look ----
// the reference image is narrower than its height suggests, so draw wider and squeeze
const SQUEEZE = 0.85
const FONT = "'Liberation Sans', Arial, Helvetica, sans-serif"
const POINT = 'rgba(40, 120, 228, 0.72)'
const LINE = 'rgb(40, 116, 222)'
const BAND = 'rgba(40, 120, 228, 0.2)'
const TICK = '#4d4d4d'

const panels = [
	{ canvas: 'c1', left: 0.2, width: 385.1, title: 'Distance to Oil Well', xTitle: 'Distance (m)', xMin: -150, xMax: 3150, xTicks: distTicks, xMajor: distMajor, points: distPoints, fitX: distFitX, fit: distFit, lo: distLo, hi: distHi },
	{ canvas: 'c2', left: 383.9, width: 385.1, title: 'Organic Carbon', xTitle: 'TOC (%)', xMin: -0.25, xMax: 5.25, xTicks: tocTicks, xMajor: tocMajor, points: tocPoints, fitX: tocFitX, fit: tocFit, lo: tocLo, hi: tocHi },
	{ canvas: 'c3', left: 767.8, width: 385.5, title: 'Depth', xTitle: 'Depth (cm)', xMin: -0.75, xMax: 125.75, xTicks: depthTicks, xMajor: depthMajor, points: depthPoints, fitX: depthFitX, fit: depthFit, lo: depthLo, hi: depthHi }
]

// rug along the bottom edge, one tick per observation
const rugPlugin = {
	id: 'rug',
	afterDatasetsDraw(chart) {
		const { ctx, chartArea, scales } = chart
		const pts = chart.data.datasets[3].data
		const h = (chartArea.bottom - chartArea.top) * 0.03
		ctx.save()
		ctx.strokeStyle = '#000'
		ctx.lineWidth = 1.5
		ctx.beginPath()
		pts.forEach(p => {
			const px = scales.x.getPixelForValue(p.x)
			ctx.moveTo(px, chartArea.bottom)
			ctx.lineTo(px, chartArea.bottom - h)
		})
		ctx.stroke()
		ctx.restore()
	}
}

function gridStyle(major) {
	return {
		drawTicks: false,
		color: ctx => major.includes(ctx.tick.value) ? '#e6e6e6' : '#f0f0f0',
		lineWidth: ctx => major.includes(ctx.tick.value) ? 1.4 : 1
	}
}

function makePanel(p) {
	const canvas = document.getElementById(p.canvas)
	const box = canvas.parentNode
	box.style.left = (p.left / SQUEEZE) + 'px'
	box.style.width = (p.width / SQUEEZE) + 'px'

	const toXY = ys => p.fitX.map((x, i) => ({ x, y: ys[i] }))

	const config = {
		type: 'scatter',
		data: {
			datasets: [
				{ label: 'fit', data: toXY(p.fit), showLine: true, borderColor: LINE, borderWidth: 2.6, pointRadius: 0, cubicInterpolationMode: 'monotone', order: 0 },
				{ label: 'upper', data: toXY(p.hi), showLine: true, borderColor: 'rgba(0,0,0,0)', pointRadius: 0, fill: '+1', backgroundColor: BAND, cubicInterpolationMode: 'monotone', order: 1 },
				{ label: 'lower', data: toXY(p.lo), showLine: true, borderColor: 'rgba(0,0,0,0)', pointRadius: 0, fill: false, cubicInterpolationMode: 'monotone', order: 1 },
				{ label: 'points', data: p.points.map(([x, y]) => ({ x, y })), pointRadius: 4.8, pointBackgroundColor: POINT, pointBorderWidth: 0, order: 2 }
			]
		},
		options: {
			responsive: true,
			maintainAspectRatio: false,
			animation: false,
			events: [],
			layout: { padding: { left: 0, right: 3 / SQUEEZE, top: 0, bottom: 0 } },
			scales: {
				x: {
					type: 'linear',
					min: p.xMin,
					max: p.xMax,
					afterBuildTicks: s => { s.ticks = p.xTicks.map(v => ({ value: v })) },
					afterFit: s => { s.height = 47.3 },
					ticks: {
						autoSkip: false,
						maxRotation: 0,
						padding: 7.3,
						color: TICK,
						font: { family: FONT, size: 15 },
						callback: v => p.xMajor.includes(v) ? String(v) : ''
					},
					grid: gridStyle(p.xMajor),
					border: { display: false },
					title: { display: true, text: p.xTitle, color: '#000', font: { family: FONT, size: 15.5 }, padding: { top: 2.7, bottom: 0.7 } }
				},
				y: {
					type: 'linear',
					min: -1.5,
					max: 2,
					afterBuildTicks: s => { s.ticks = yTicks.map(v => ({ value: v })) },
					afterFit: s => { s.width = 57 / SQUEEZE },
					ticks: {
						autoSkip: false,
						padding: 7 / SQUEEZE,
						color: TICK,
						font: { family: FONT, size: 15 },
						callback: v => yMajor.includes(v) ? v.toFixed(1) : ''
					},
					grid: gridStyle(yMajor),
					border: { display: false },
					title: { display: true, text: 'Partial effect (link scale)', color: '#000', font: { family: FONT, size: 18.5 }, padding: { top: 12, bottom: 0 } }
				}
			},
			plugins: {
				legend: { display: false },
				tooltip: { enabled: false },
				title: {
					display: true,
					text: p.title,
					align: 'start',
					fullSize: false,
					color: '#000',
					font: { family: FONT, size: 15.5, weight: 'normal' },
					padding: { top: 8.7, bottom: 15.4 }
				}
			}
		},
		plugins: [rugPlugin]
	}
	return new Chart(canvas, config)
}

const fig = document.getElementById('figure')
fig.style.width = (1159 / SQUEEZE) + 'px'
fig.style.transform = 'scaleX(' + SQUEEZE + ')'
panels.forEach(makePanel)
</script>
</body>
</html>
